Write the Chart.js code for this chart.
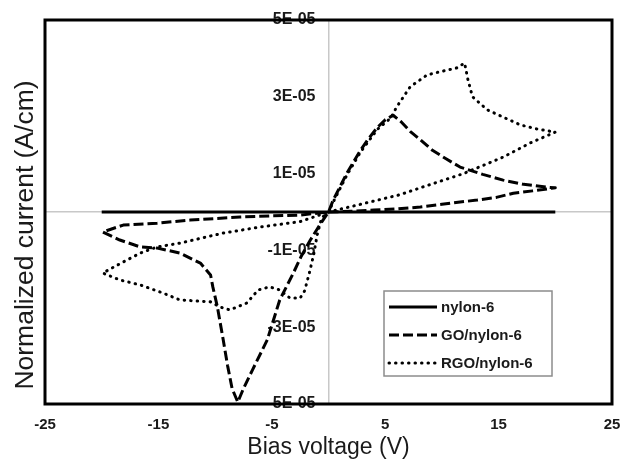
<!DOCTYPE html>
<html>
<head>
<meta charset="utf-8">
<script src="https://cdn.jsdelivr.net/npm/chart.js@4.4.1/dist/chart.umd.min.js"></script>
<style>
  html, body { margin: 0; padding: 0; background: #fff; }
</style>
</head>
<body>
<canvas id="ivChart" width="621" height="459"></canvas>
<script>
// Series names (legend)
const seriesNames = ['nylon-6', 'GO/nylon-6', 'RGO/nylon-6'];

// nylon-6: flat line
const nylonX = [-20, -10, 0, 10, 20];
const nylonY = [0, 0, 0, 0, 0];

// GO/nylon-6: hysteresis loop
const goX = [0, 2, 4, 6, 8.1, 10, 11.6, 13.1, 14.8, 16.3, 18, 20,
  19.5, 17.2, 15.4, 13.6, 11.6, 10.4, 9.2, 8.1, 7.2, 6.4, 5.7, 5.0, 4.3, 3.5, 2.8, 2.2, 1.6, 1.0, 0.4, 0,
  -0.8, -1.6, -2.4, -3.1, -4.3, -5.4, -6.7, -7.5, -8.0, -8.5, -8.9, -9.3, -9.8, -10.2, -10.4, -11.3, -13.1, -15.1, -16.6, -18.4, -19.9,
  -18.1, -15.1, -12.2, -7.8, -5, -2.5, 0];
const goY = [0, 0.02e-5, 0.05e-5, 0.08e-5, 0.13e-5, 0.2e-5, 0.26e-5, 0.31e-5, 0.38e-5, 0.49e-5, 0.55e-5, 0.63e-5,
  0.64e-5, 0.72e-5, 0.83e-5, 0.98e-5, 1.17e-5, 1.38e-5, 1.6e-5, 1.88e-5, 2.1e-5, 2.35e-5, 2.52e-5, 2.4e-5, 2.2e-5, 1.9e-5, 1.6e-5, 1.3e-5, 1.0e-5, 0.65e-5, 0.3e-5, 0,
  -0.35e-5, -0.73e-5, -1.15e-5, -1.59e-5, -2.29e-5, -3.33e-5, -4.11e-5, -4.6e-5, -4.95e-5, -4.6e-5, -4.0e-5, -3.3e-5, -2.47e-5, -1.95e-5, -1.64e-5, -1.33e-5, -1.07e-5, -0.94e-5, -0.91e-5, -0.73e-5, -0.52e-5,
  -0.34e-5, -0.29e-5, -0.21e-5, -0.13e-5, -0.1e-5, -0.08e-5, 0];

// RGO/nylon-6: hysteresis loop
const rgoX = [0, 2.8, 6.3, 8.1, 11.9, 15.4, 17.8, 20,
  18.4, 16.9, 14.0, 12.7, 12.3, 12.0, 11.3, 9.8, 8.7, 7.2, 6.0, 5.5, 4.3, 2.8, 1.6, 0.4, 0,
  -0.6, -1.0, -1.3, -1.7, -2.1, -2.5, -3.4, -4.3, -5.2, -6.2, -7.2, -8.7, -9.6, -10.4, -13.1, -14.6, -16.6, -18.4, -19.9,
  -18.6, -16.6, -15.1, -13.1, -9.3, -6.0, -4.5, -2.5, -1, 0];
const rgoY = [0, 0.2e-5, 0.45e-5, 0.63e-5, 1.0e-5, 1.43e-5, 1.8e-5, 2.08e-5,
  2.16e-5, 2.27e-5, 2.66e-5, 3.0e-5, 3.44e-5, 3.88e-5, 3.75e-5, 3.65e-5, 3.57e-5, 3.26e-5, 2.73e-5, 2.45e-5, 2.15e-5, 1.55e-5, 0.95e-5, 0.25e-5, 0,
  -0.15e-5, -0.6e-5, -1.1e-5, -1.6e-5, -2.05e-5, -2.24e-5, -2.24e-5, -2.03e-5, -1.95e-5, -2.03e-5, -2.37e-5, -2.55e-5, -2.47e-5, -2.34e-5, -2.29e-5, -2.11e-5, -1.9e-5, -1.77e-5, -1.59e-5,
  -1.38e-5, -1.07e-5, -0.91e-5, -0.81e-5, -0.55e-5, -0.39e-5, -0.33e-5, -0.25e-5, -0.1e-5, 0];

// Tick labels
const xTicks = [-25, -15, -5, 5, 15, 25];
const yTicks = [-5e-5, -3e-5, -1e-5, 1e-5, 3e-5, 5e-5];

const FONT = "'Liberation Sans', Arial, sans-serif";
const INK = '#1a1a1a';

// 5e-5 -> "5E-05"
function sciLabel(v) {
    const parts = v.toExponential(0).split('e');
    const exp = parseInt(parts[1], 10);
    return parts[0] + 'E' + (exp < 0 ? '-' : '+') + String(Math.abs(exp)).padStart(2, '0');
}

function toPoints(xs, ys) {
    return xs.map((x, i) => ({ x: x, y: ys[i] }));
}

// black frame around the plot area
const framePlugin = {
    id: 'frame',
    afterDatasetsDraw(chart) {
        const { ctx, chartArea: a } = chart;
        ctx.save();
        ctx.strokeStyle = '#000';
        ctx.lineWidth = 3;
        ctx.strokeRect(a.left, a.top, a.right - a.left, a.bottom - a.top);
        ctx.restore();
    }
};

// y axis title, a little below the middle as in the original figure
const yTitlePlugin = {
    id: 'yTitle',
    afterDraw(chart) {
        const { ctx, chartArea: a } = chart;
        ctx.save();
        ctx.translate(a.left - 19, (a.top + a.bottom) / 2 + 23);
        ctx.rotate(-Math.PI / 2);
        ctx.fillStyle = INK;
        ctx.font = '26.5px ' + FONT;
        ctx.textAlign = 'center';
        ctx.textBaseline = 'middle';
        ctx.fillText('Normalized current (A/cm)', 0, 0);
        ctx.restore();
    }
};

// legend box inside the plot, lower right
const innerLegend = {
    id: 'innerLegend',
    afterDraw(chart) {
        const { ctx, chartArea: a } = chart;
        const w = 168, h = 85;
        const x0 = a.right - 60 - w;
        const y0 = a.bottom - 28 - h;
        ctx.save();
        ctx.fillStyle = '#fff';
        ctx.fillRect(x0, y0, w, h);
        ctx.strokeStyle = '#8c8c8c';
        ctx.lineWidth = 1.5;
        ctx.strokeRect(x0, y0, w, h);
        chart.data.datasets.forEach((ds, i) => {
            const y = y0 + 16 + i * 28;
            ctx.beginPath();
            ctx.strokeStyle = ds.borderColor;
            ctx.lineWidth = ds.borderWidth;
            ctx.lineCap = ds.borderCapStyle || 'butt';
            ctx.setLineDash(ds.borderDash || []);
            ctx.moveTo(x0 + 5, y);
            ctx.lineTo(x0 + 53, y);
            ctx.stroke();
            ctx.setLineDash([]);
            ctx.fillStyle = INK;
            ctx.font = 'bold 15px ' + FONT;
            ctx.textBaseline = 'middle';
            ctx.fillText(ds.label, x0 + 57, y + 1);
        });
        ctx.restore();
    }
};

new Chart(document.getElementById('ivChart'), {
    type: 'scatter',
    data: {
        datasets: [
            {
                label: seriesNames[0],
                data: toPoints(nylonX, nylonY),
                showLine: true,
                borderColor: '#000',
                borderWidth: 3,
                pointRadius: 0,
                tension: 0
            },
            {
                label: seriesNames[1],
                data: toPoints(goX, goY),
                showLine: true,
                borderColor: '#000',
                borderWidth: 3,
                borderDash: [10, 4],
                borderJoinStyle: 'round',
                pointRadius: 0,
                tension: 0
            },
            {
                label: seriesNames[2],
                data: toPoints(rgoX, rgoY),
                showLine: true,
                borderColor: '#000',
                borderWidth: 3,
                borderDash: [0.5, 6],
                borderCapStyle: 'round',
                borderJoinStyle: 'round',
                pointRadius: 0,
                tension: 0
            }
        ]
    },
    options: {
        responsive: false,
        animation: false,
        devicePixelRatio: 1,
        layout: { padding: { top: 20, right: 9, left: 0, bottom: 0 } },
        plugins: {
            legend: { display: false },
            tooltip: { enabled: false }
        },
        scales: {
            x: {
                type: 'linear',
                position: 'bottom',
                min: -25,
                max: 25,
                afterBuildTicks: s => { s.ticks = xTicks.map(v => ({ value: v })); },
                afterFit: s => { s.height = 55; s.paddingLeft = 0; s.paddingRight = 0; },
                ticks: {
                    color: INK,
                    font: { family: FONT, size: 15, weight: 'bold' },
                    padding: 12,
                    maxRotation: 0,
                    autoSkip: false
                },
                grid: { display: false, drawTicks: false },
                border: { display: false },
                title: {
                    display: true,
                    text: 'Bias voltage (V)',
                    color: INK,
                    font: { family: FONT, size: 23, lineHeight: 1 },
                    padding: 0
                }
            },
            y: {
                type: 'linear',
                position: 'left',
                min: -5e-5,
                max: 5e-5,
                afterFit: s => { s.width = 45; },
                ticks: { display: false },
                grid: { display: false, drawTicks: false },
                border: { display: false }
            },
            // tick labels of the current axis, just left of x = 0
            yLabels: {
                type: 'linear',
                position: { x: -1.15 },
                min: -5e-5,
                max: 5e-5,
                afterBuildTicks: s => { s.ticks = yTicks.map(v => ({ value: v })); },
                afterFit: s => { s.width = 0; },
                ticks: {
                    color: INK,
                    font: { family: FONT, size: 16, weight: 'bold' },
                    callback: v => sciLabel(v)
                },
                grid: { display: false, drawTicks: false },
                border: { display: false }
            },
            // vertical line through x = 0
            yZero: {
                type: 'linear',
                position: { x: 0 },
                min: -5e-5,
                max: 5e-5,
                afterFit: s => { s.width = 0; },
                ticks: { display: false },
                grid: { display: false, drawTicks: false },
                border: { color: '#c8c8c8', width: 1.5 }
            },
            // horizontal line through y = 0
            xZero: {
                type: 'linear',
                position: { y: 0 },
                min: -25,
                max: 25,
                afterFit: s => { s.height = 0; },
                ticks: { display: false },
                grid: { display: false, drawTicks: false },
                border: { color: '#c8c8c8', width: 1.5 }
            }
        }
    },
    plugins: [framePlugin, yTitlePlugin, innerLegend]
});
</script>
</body>
</html>
